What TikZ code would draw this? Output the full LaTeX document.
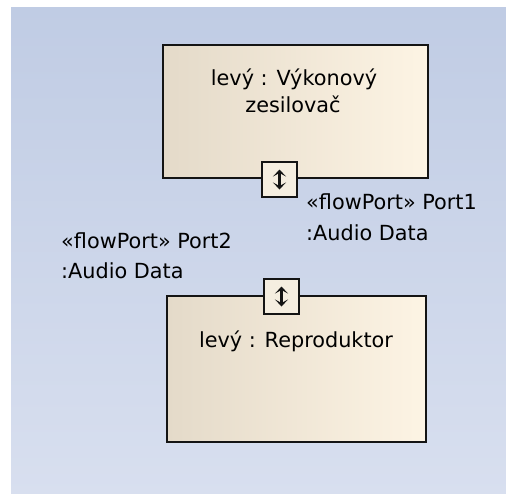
\documentclass[tikz,border=0pt]{standalone}
\usepackage{fontspec}
\setmainfont{DejaVu Sans}
\usetikzlibrary{arrows.meta}
\definecolor{bgtop}{RGB}{192,204,228}
\definecolor{bgbot}{RGB}{216,223,239}
\definecolor{partL}{RGB}{228,218,201}
\definecolor{partR}{RGB}{253,244,228}
\definecolor{portfill}{RGB}{245,238,224}
\definecolor{edge}{RGB}{20,20,20}
\tikzset{
  part/.style={draw=edge, line width=1.6pt, left color=partL, right color=partR,
    minimum width=#1, inner sep=0pt},
  portbox/.style={draw=edge, line width=1.4pt, fill=portfill,
    minimum width=35pt, minimum height=35pt, inner sep=0pt},
  flowarrow/.style={line width=2.2pt, draw=edge,
    {Stealth[length=7pt,width=13pt,inset=3.5pt]}-{Stealth[length=7pt,width=13pt,inset=3.5pt]}},
  lbl/.style={inner sep=0pt, font=\fontsize{20.8}{25}\selectfont, text=black}
}
\begin{document}
\begin{tikzpicture}[x=1pt,y=-1pt]
  \useasboundingbox (0,0) rectangle (506,493);
  % canvas
  \shade[top color=bgtop, bottom color=bgbot] (11,7) rectangle (508,496);

  % power amplifier part
  \node[part=265pt, minimum height=133pt] (amp) at (295.5,111.5) {};
  \node[lbl, anchor=base] (ampname1) at (294,85) {levý : Výkonový};
  \node[lbl, anchor=base] (ampname2) at (293,112) {zesilovač};

  % speaker part
  \node[part=259pt, minimum height=146pt] (spk) at (296.5,369) {};
  \node[lbl, anchor=base] (spkname) at (296,347) {levý : Reproduktor};

  % flow ports
  \node[portbox] (port1) at (279.5,179.5) {};
  \draw[flowarrow] ([yshift=10pt]port1.center) -- ([yshift=-10pt]port1.center);
  \node[portbox] (port2) at (281.5,296.5) {};
  \draw[flowarrow] ([yshift=10pt]port2.center) -- ([yshift=-10pt]port2.center);

  % port labels
  \node[lbl, anchor=base west] (p1a) at (306,209) {«flowPort» Port1};
  \node[lbl, anchor=base west] (p1b) at (306,240) {:Audio Data};
  \node[lbl, anchor=base west] (p2a) at (61,248) {«flowPort» Port2};
  \node[lbl, anchor=base west] (p2b) at (61,278) {:Audio Data};
\end{tikzpicture}
\end{document}
